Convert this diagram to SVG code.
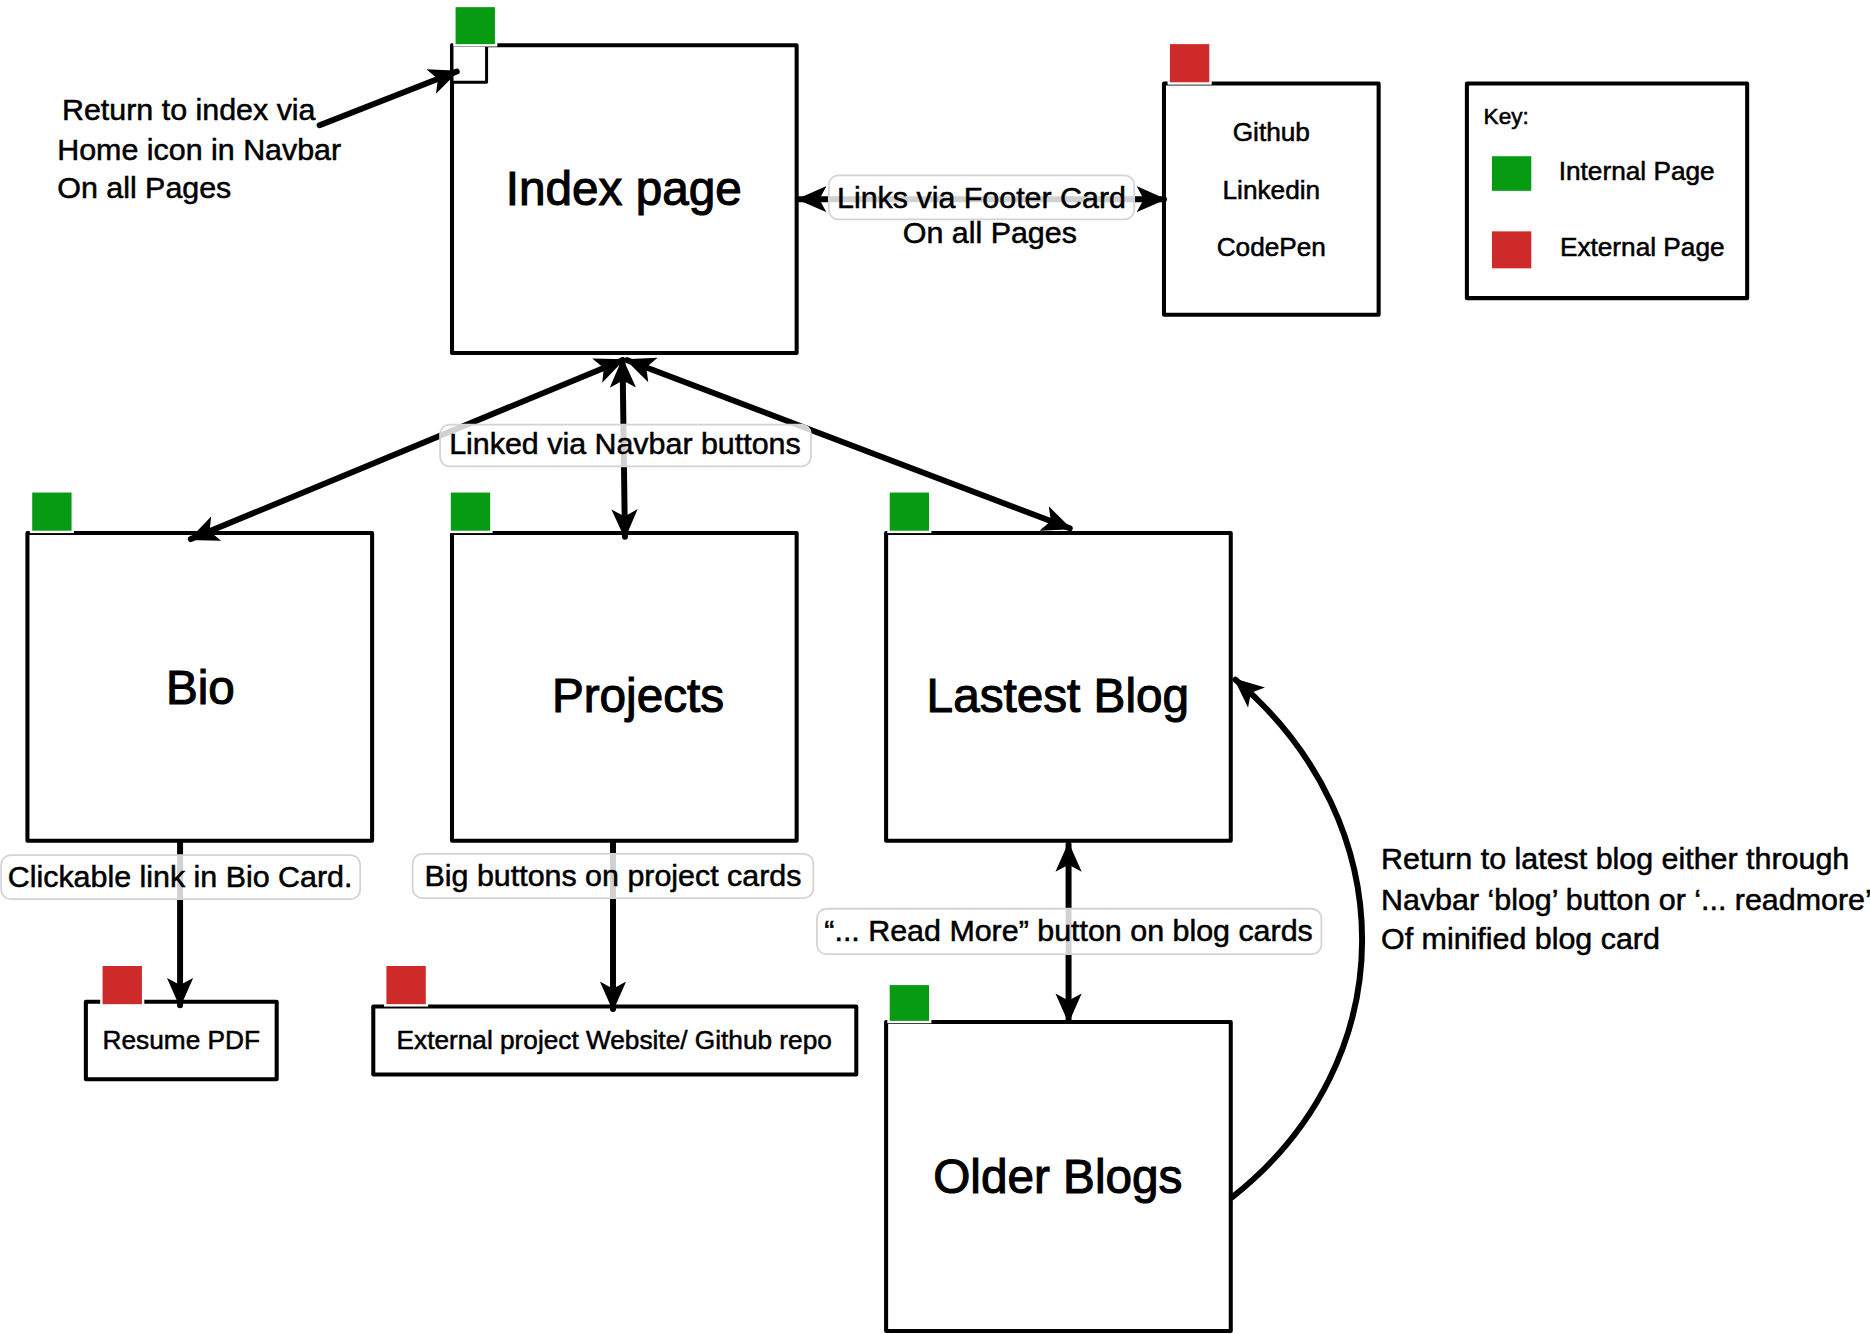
<svg xmlns="http://www.w3.org/2000/svg" width="1870" height="1334" viewBox="0 0 1870 1334">
<style>
.box{fill:#fff;stroke:#000;stroke-width:3.4;stroke-linejoin:round}
.gsq{fill:#079b14;stroke:#fff;stroke-width:2}
.rsq{fill:#cf2a2a;stroke:#fff;stroke-width:2}
.t{font-family:"Liberation Sans","DejaVu Sans",sans-serif;fill:#000;stroke:#000;stroke-width:0.45}
.title{font-size:40px;text-anchor:middle;stroke-width:0.9}
.small{font-size:22px;text-anchor:middle}
.note{font-size:25.5px}
.lbl{font-size:25.5px;text-anchor:middle}
.lblbox{fill:#fff;fill-opacity:0.82;stroke:#d4d4d4;stroke-width:1.5}
.con{fill:none;stroke:#000;stroke-width:5;stroke-linecap:round}
</style>
<defs>
<marker id="ah" markerUnits="userSpaceOnUse" markerWidth="26" markerHeight="24" viewBox="0 0 26 24" refX="23" refY="12" orient="auto-start-reverse">
<path d="M0,1 L25,12 L0,23 L6,12 z" fill="#000"/>
</marker>
</defs>
<rect width="1870" height="1334" fill="#fff"/>
<g transform="scale(1.1926)">
<g id="index">
<rect class="box" x="379" y="38" width="289" height="258"/>
<rect class="box" x="379" y="38" width="29" height="31" style="stroke-width:2.5"/>
<rect class="gsq" x="381" y="5" width="35" height="33"/>
<text class="t title" x="523" y="172">Index page</text>
</g>
<g id="external-links">
<rect class="box" x="976" y="70" width="180" height="194"/>
<rect class="rsq" x="980" y="36" width="35" height="34"/>
<text class="t small" x="1066" y="118">Github</text>
<text class="t small" x="1066" y="167">Linkedin</text>
<text class="t small" x="1066" y="215">CodePen</text>
</g>
<g id="key">
<rect class="box" x="1230" y="70" width="235" height="180"/>
<text class="t" x="1244" y="104" style="font-size:19px">Key:</text>
<rect class="gsq" x="1250" y="130" width="35" height="31"/>
<text class="t" x="1307" y="151" style="font-size:22px">Internal Page</text>
<rect class="rsq" x="1250" y="193" width="35" height="33"/>
<text class="t" x="1308" y="215" style="font-size:22px">External Page</text>
</g>
<g id="bio">
<rect class="box" x="23" y="447" width="289" height="258"/>
<rect class="gsq" x="26" y="412" width="35" height="34"/>
<text class="t title" x="168" y="590">Bio</text>
</g>
<g id="projects">
<rect class="box" x="379" y="447" width="289" height="258"/>
<rect class="gsq" x="377" y="412" width="35" height="34"/>
<text class="t title" x="535" y="597">Projects</text>
</g>
<g id="latest-blog">
<rect class="box" x="743" y="447" width="289" height="258"/>
<rect class="gsq" x="745" y="412" width="35" height="34"/>
<text class="t title" x="887" y="597">Lastest Blog</text>
</g>
<g id="resume">
<rect class="box" x="72" y="840" width="160" height="65"/>
<rect class="rsq" x="85" y="809" width="35" height="34"/>
<text class="t small" x="152" y="880">Resume PDF</text>
</g>
<g id="external-project">
<rect class="box" x="313" y="844" width="405" height="57"/>
<rect class="rsq" x="323" y="809" width="35" height="34"/>
<text class="t small" x="515" y="880">External project Website/ Github repo</text>
</g>
<g id="older-blogs">
<rect class="box" x="743" y="857" width="289" height="259"/>
<rect class="gsq" x="745" y="825" width="35" height="32"/>
<text class="t title" x="887" y="1000">Older Blogs</text>
</g>
<g id="connectors">
<path class="con" d="M268,105 L383,60" marker-end="url(#ah)"/>
<path class="con" d="M670,167 L976,167" marker-start="url(#ah)" marker-end="url(#ah)"/>
<path class="con" d="M522,302 L160,452" marker-start="url(#ah)" marker-end="url(#ah)"/>
<path class="con" d="M522,302 L524,450" marker-start="url(#ah)" marker-end="url(#ah)"/>
<path class="con" d="M526,302 L897,443" marker-start="url(#ah)" marker-end="url(#ah)"/>
<path class="con" d="M151,706 L151,843" marker-end="url(#ah)"/>
<path class="con" d="M514,706 L514,846" marker-end="url(#ah)"/>
<path class="con" d="M896,708 L896,856" marker-start="url(#ah)" marker-end="url(#ah)"/>
<path class="con" d="M1033,1004 C1178,890 1178,690 1036,570" marker-end="url(#ah)"/>
</g>
<g id="connector-labels">
<rect class="lblbox" x="369" y="356" width="311" height="35" rx="8"/>
<text class="t lbl" x="524" y="381">Linked via Navbar buttons</text>
<rect class="lblbox" x="695" y="147" width="256" height="37" rx="8"/>
<text class="t lbl" x="823" y="174">Links via Footer Card</text>
<text class="t lbl" x="830" y="204">On all Pages</text>
<rect class="lblbox" x="1" y="717" width="301" height="37" rx="8"/>
<text class="t lbl" x="151" y="744">Clickable link in Bio Card.</text>
<rect class="lblbox" x="346" y="716" width="336" height="37" rx="8"/>
<text class="t lbl" x="514" y="743">Big buttons on project cards</text>
<rect class="lblbox" x="685" y="762" width="423" height="38" rx="8"/>
<text class="t lbl" x="896" y="789">“... Read More” button on blog cards</text>
</g>
<g id="notes">
<text class="t note" x="52" y="101">Return to index via</text>
<text class="t note" x="48" y="134">Home icon in Navbar</text>
<text class="t note" x="48" y="166">On all Pages</text>
<text class="t note" x="1158" y="729">Return to latest blog either through</text>
<text class="t note" x="1158" y="763">Navbar ‘blog’ button or ‘... readmore’</text>
<text class="t note" x="1158" y="796">Of minified blog card</text>
</g>
</g>
</svg>
